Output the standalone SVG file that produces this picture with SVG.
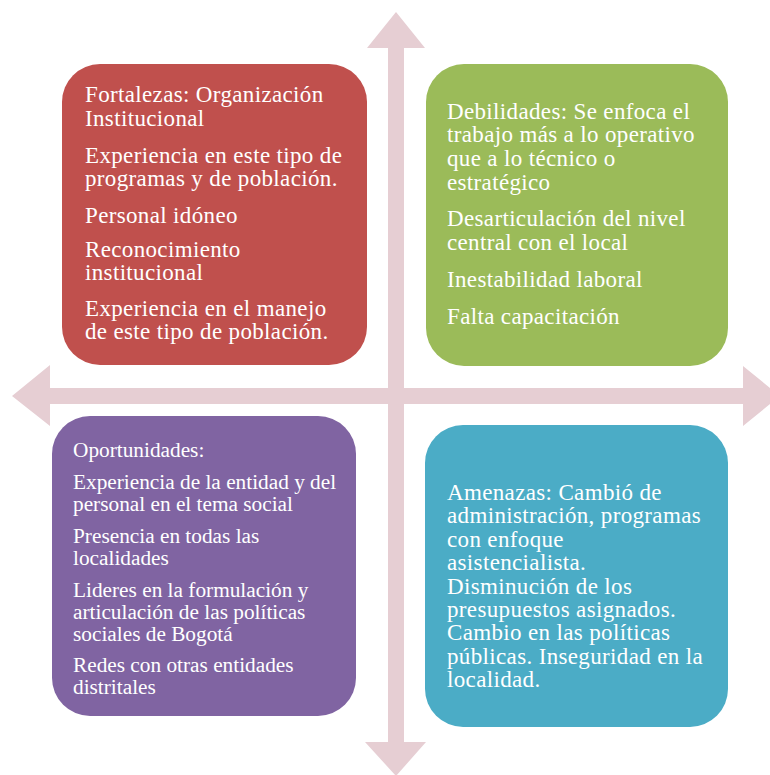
<svg xmlns="http://www.w3.org/2000/svg" width="770" height="775" viewBox="0 0 770 775">
<style>
.box{stroke:none}
.t{font-family:"Liberation Serif","Times New Roman",serif;font-size:23px;letter-spacing:0.35px;fill:#ffffff}
.tp{font-family:"Liberation Serif","Times New Roman",serif;font-size:21.3px;fill:#ffffff}
.arrow{fill:#E6CED3;stroke:none}
</style>
<rect width="770" height="775" fill="#ffffff"/>
<g id="connectors">
<polygon class="arrow" points="396,12 425,48 404,48 404,742 426,742 396,776 365,742 388,742 388,48 367,48"/>
<polygon class="arrow" points="12,396 50,365 50,388 743,388 743,366 780,396 743,426 743,404 50,404 50,426"/>
</g>
<g id="fortalezas">
<rect class="box" x="62" y="64" width="305" height="301" rx="38" fill="#C0504D"/>
<text class="t" x="85" y="101.5">Fortalezas: Organización</text>
<text class="t" x="85" y="125.5">Institucional</text>
<text class="t" x="85" y="162.5">Experiencia en este tipo de</text>
<text class="t" x="85" y="186">programas y de población.</text>
<text class="t" x="85" y="222.5">Personal idóneo</text>
<text class="t" x="85" y="256.5">Reconocimiento</text>
<text class="t" x="85" y="280">institucional</text>
<text class="t" x="85" y="315.5">Experiencia en el manejo</text>
<text class="t" x="85" y="339">de este tipo de población.</text>
</g>
<g id="debilidades">
<rect class="box" x="426" y="64" width="302" height="302" rx="38" fill="#9BBB59"/>
<text class="t" x="447" y="118.5">Debilidades: Se enfoca el</text>
<text class="t" x="447" y="142">trabajo más a lo operativo</text>
<text class="t" x="447" y="166">que a lo técnico o</text>
<text class="t" x="447" y="190">estratégico</text>
<text class="t" x="447" y="226">Desarticulación del nivel</text>
<text class="t" x="447" y="249.5">central con el local</text>
<text class="t" x="447" y="287">Inestabilidad laboral</text>
<text class="t" x="447" y="324">Falta capacitación</text>
</g>
<g id="oportunidades">
<rect class="box" x="52" y="416" width="304" height="300" rx="38" fill="#8064A2"/>
<text class="tp" x="73" y="456.5">Oportunidades:</text>
<text class="tp" x="73" y="488.5">Experiencia de la entidad y del</text>
<text class="tp" x="73" y="510.5">personal en el tema social</text>
<text class="tp" x="73" y="542.5">Presencia en todas las</text>
<text class="tp" x="73" y="564.5">localidades</text>
<text class="tp" x="73" y="596.5">Lideres en la formulación y</text>
<text class="tp" x="73" y="618.5">articulación de las políticas</text>
<text class="tp" x="73" y="640.5">sociales de Bogotá</text>
<text class="tp" x="73" y="671.5">Redes con otras entidades</text>
<text class="tp" x="73" y="693.5">distritales</text>
</g>
<g id="amenazas">
<rect class="box" x="425" y="425" width="303" height="302" rx="38" fill="#4BACC6"/>
<text class="t" x="447" y="500">Amenazas: Cambió de</text>
<text class="t" x="447" y="523.4">administración, programas</text>
<text class="t" x="447" y="546.8">con enfoque</text>
<text class="t" x="447" y="570.2">asistencialista.</text>
<text class="t" x="447" y="593.6">Disminución de los</text>
<text class="t" x="447" y="617">presupuestos asignados.</text>
<text class="t" x="447" y="640.4">Cambio en las políticas</text>
<text class="t" x="447" y="663.8">públicas. Inseguridad en la</text>
<text class="t" x="447" y="687.2">localidad.</text>
</g>
</svg>
